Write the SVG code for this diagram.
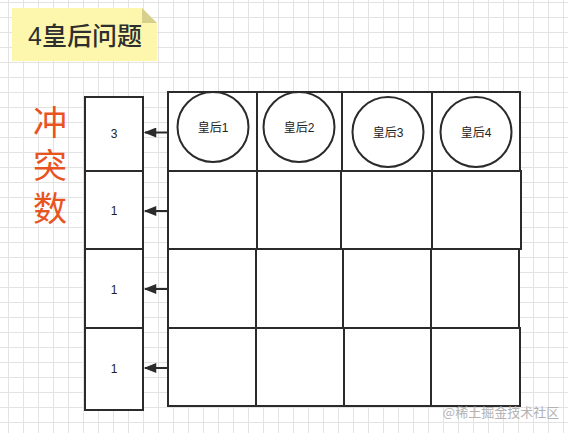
<svg xmlns="http://www.w3.org/2000/svg" width="568" height="433" viewBox="0 0 568 433">
<style>
.cell{fill:#fff;stroke:#2b2b2b;stroke-width:2}
.q{fill:#fff;stroke:#2b2b2b;stroke-width:2}
.t{font-family:"Liberation Sans","Noto Sans CJK SC",sans-serif;font-size:12px;fill:#222;text-anchor:middle;dominant-baseline:central}
.conn{stroke:#2b2b2b;stroke-width:2;fill:none;marker-end:url(#ah)}
.red{font-family:"Noto Sans CJK SC",sans-serif;font-size:34px;fill:#e8531f;writing-mode:vertical-rl;letter-spacing:9px}
</style>
<defs>
<pattern id="grid" patternUnits="userSpaceOnUse" x="8" y="2" width="15" height="15">
<path d="M0.5 0V15M0 0.5H15" stroke="#e3e3e3" stroke-width="1" fill="none"/>
</pattern>
<marker id="ah" viewBox="0 0 10 8" refX="9" refY="4" markerWidth="14" markerHeight="10" markerUnits="userSpaceOnUse" orient="auto">
<path d="M0 0L10 4L0 8Z" fill="#2b2b2b"/>
</marker>
</defs>
<rect width="568" height="433" fill="#fff"/>
<rect width="568" height="433" fill="url(#grid)"/>

<g id="title">
<path d="M12 8H142L157 23V61H12Z" fill="#fdf7ad"/>
<path d="M142 8L157 23H142Z" fill="#d7d08c"/>
<text x="85" y="45" font-family="Liberation Sans,'Noto Sans CJK SC',sans-serif" font-size="25" font-weight="500" fill="#2e2e2e" text-anchor="middle">4皇后问题</text>
</g>

<g id="label-conflicts">
<text class="red" x="50" y="105">冲突数</text>
</g>

<g id="count-column">
<rect class="cell" x="85" y="97" width="58" height="74"/>
<text class="t" x="114" y="134">3</text>
<rect class="cell" x="85" y="171" width="58" height="78"/>
<text class="t" x="114" y="211">1</text>
<rect class="cell" x="85" y="249" width="58" height="79"/>
<text class="t" x="114" y="290">1</text>
<rect class="cell" x="85" y="328" width="58" height="82"/>
<text class="t" x="114" y="369">1</text>
</g>

<g id="row1">
<rect class="cell" x="168" y="92" width="89" height="79"/>
<rect class="cell" x="257" y="92" width="85" height="79"/>
<rect class="cell" x="342" y="92" width="90" height="79"/>
<rect class="cell" x="432" y="92" width="88" height="79"/>
</g>
<g id="row2">
<rect class="cell" x="168" y="171" width="89" height="78"/>
<rect class="cell" x="257" y="171" width="84" height="78"/>
<rect class="cell" x="341" y="171" width="91" height="78"/>
<rect class="cell" x="432" y="171" width="89" height="78"/>
</g>
<g id="row3">
<rect class="cell" x="168" y="249" width="88" height="79"/>
<rect class="cell" x="256" y="249" width="87" height="79"/>
<rect class="cell" x="343" y="249" width="88" height="79"/>
<rect class="cell" x="431" y="249" width="88" height="79"/>
</g>
<g id="row4">
<rect class="cell" x="168" y="328" width="88" height="78"/>
<rect class="cell" x="256" y="328" width="88" height="78"/>
<rect class="cell" x="344" y="328" width="87" height="78"/>
<rect class="cell" x="431" y="328" width="89" height="78"/>
</g>

<g id="queen1">
<ellipse class="q" cx="213" cy="127" rx="35.5" ry="35"/>
<text class="t" x="213" y="128">皇后1</text>
</g>
<g id="queen2">
<ellipse class="q" cx="299" cy="127" rx="35.5" ry="35"/>
<text class="t" x="299" y="128">皇后2</text>
</g>
<g id="queen3">
<ellipse class="q" cx="388" cy="132" rx="35.5" ry="35"/>
<text class="t" x="388" y="133">皇后3</text>
</g>
<g id="queen4">
<ellipse class="q" cx="476" cy="132" rx="35.5" ry="35"/>
<text class="t" x="476" y="133">皇后4</text>
</g>

<g id="connectors">
<line class="conn" x1="168" y1="132.5" x2="145" y2="132.5"/>
<line class="conn" x1="168" y1="211" x2="145" y2="211"/>
<line class="conn" x1="168" y1="289" x2="145" y2="289"/>
<line class="conn" x1="168" y1="368" x2="145" y2="368"/>
</g>

<text x="501" y="417" font-family="'Noto Sans CJK SC',sans-serif" font-size="13" fill="#b3b3b3" text-anchor="middle">@稀土掘金技术社区</text>
</svg>
